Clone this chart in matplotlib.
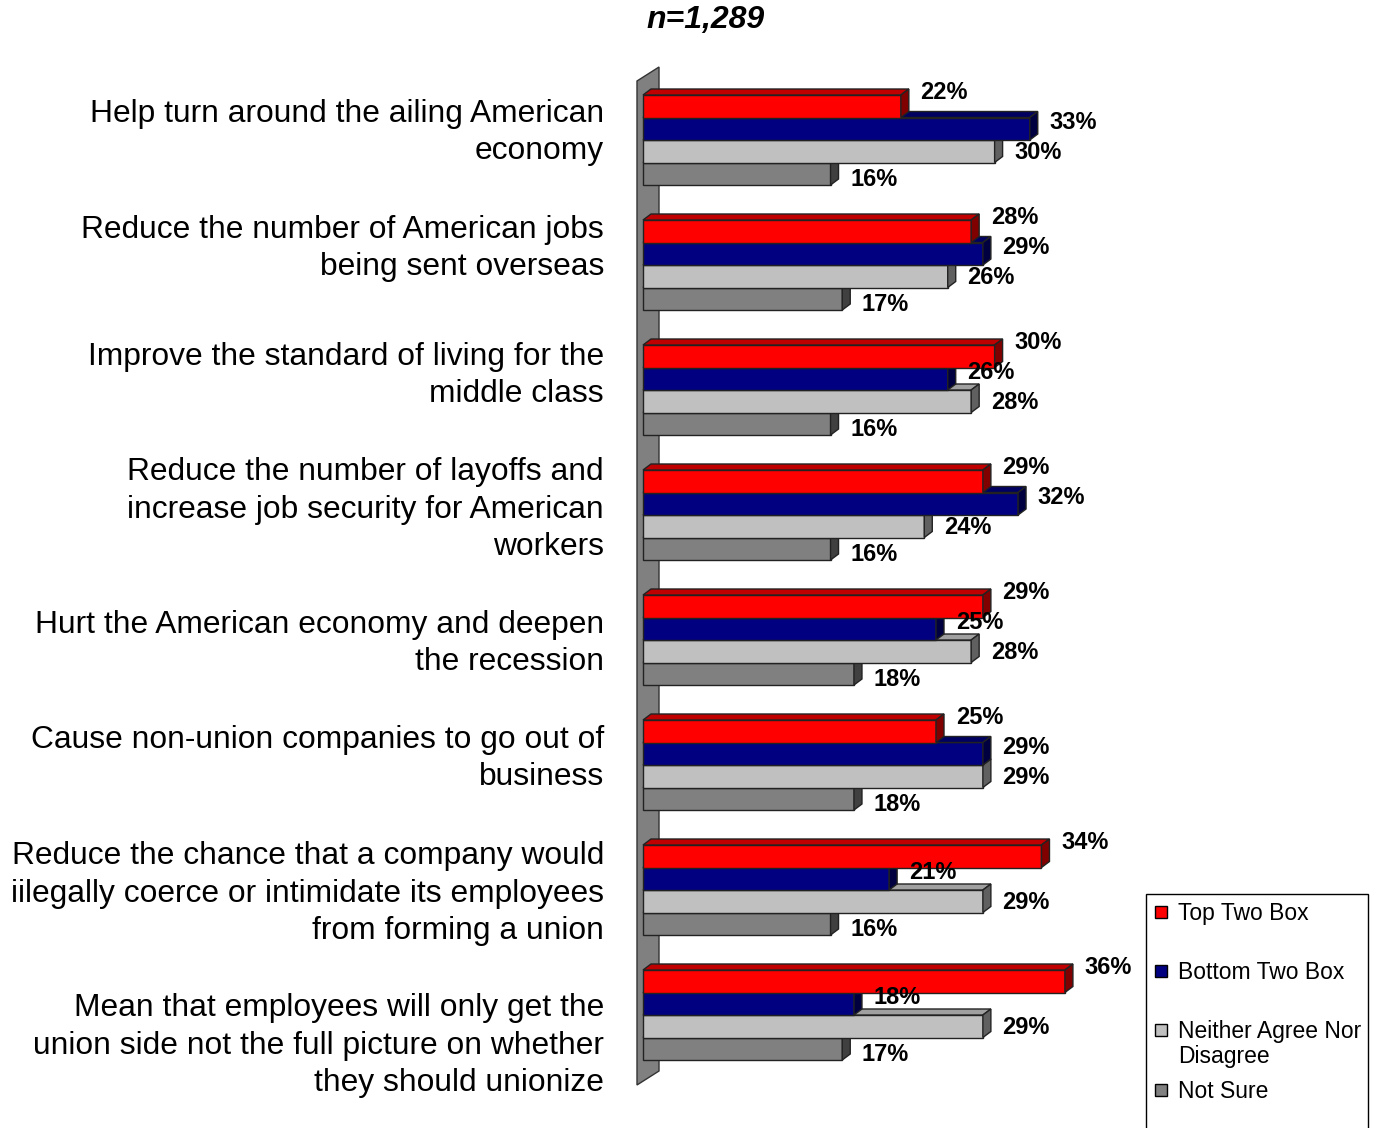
import matplotlib
matplotlib.use("Agg")
import matplotlib.pyplot as plt
from matplotlib.patches import Polygon, Rectangle

plt.rcParams['font.family'] = ['Liberation Sans', 'DejaVu Sans']

# Data
categories = [
    "Help turn around the ailing American\neconomy",
    "Reduce the number of American jobs\nbeing sent overseas",
    "Improve the standard of living for the\nmiddle class",
    "Reduce the number of layoffs and\nincrease job security for American\nworkers",
    "Hurt the American economy and deepen\nthe recession",
    "Cause non-union companies to go out of\nbusiness",
    "Reduce the chance that a company would\niilegally coerce or intimidate its employees\nfrom forming a union",
    "Mean that employees will only get the\nunion side not the full picture on whether\nthey should unionize",
]
series = ["Top Two Box", "Bottom Two Box", "Neither Agree Nor\nDisagree", "Not Sure"]
top_two = [22, 28, 30, 29, 29, 25, 34, 36]
bottom_two = [33, 29, 26, 32, 25, 29, 21, 18]
neither = [30, 26, 28, 24, 28, 29, 29, 29]
not_sure = [16, 17, 16, 16, 18, 18, 16, 17]
values = [top_two, bottom_two, neither, not_sure]

# front, top, side colours per series
front_cols = ["#FF0000", "#000080", "#C0C0C0", "#808080"]
top_cols = ["#C00000", "#000060", "#A0A0A0", "#606060"]
side_cols = ["#800000", "#000040", "#606060", "#404040"]

W, H = 1379, 1128
fig = plt.figure(figsize=(W / 100, H / 100), dpi=100)

# axes: x in percent (0 at px 643, 11.72 px per %), y in category units (125 px each)
x0_px, ppx = 643, 11.72
xmax = 40
ax = fig.add_axes([x0_px / W, 1 - 1077.5 / H, xmax * ppx / W, 1000 / H])
ax.set_xlim(0, xmax)
ax.set_ylim(7.5, -0.5)
ax.axis("off")

dx = 8 / ppx      # depth offset, percent units
dy = 6 / 125      # depth offset, category units
bh = 0.18         # bar height

# side wall
wx0, wx1 = -6 / ppx, 16 / ppx
wy_top, wy_bot = -0.472, 7.56
wdy = 14 / 125
ax.add_patch(Polygon([(wx0, wy_top), (wx1, wy_top - wdy), (wx1, wy_bot - wdy), (wx0, wy_bot)],
                     closed=True, facecolor="#808080", edgecolor="#333333", lw=1, clip_on=False, zorder=1))

label_dy = [-0.11, -0.05, 0.01, 0.045]
# small vertical nudges (px) of the category text, as laid out in the original
cat_nudge = [-1, -10, -8, 1, 10, 0, 10, 37]
for i in range(len(categories)):
    for j in reversed(range(len(values))):
        v = values[j][i]
        top = i - 2 * bh + j * bh
        ec = "#222222"
        ax.add_patch(Rectangle((0, top), v, bh, facecolor=front_cols[j], edgecolor=ec, lw=1,
                               clip_on=False, zorder=2))
        ax.add_patch(Polygon([(0, top), (v, top), (v + dx, top - dy), (dx, top - dy)], closed=True,
                             facecolor=top_cols[j], edgecolor=ec, lw=1, clip_on=False, zorder=2))
        ax.add_patch(Polygon([(v, top), (v + dx, top - dy), (v + dx, top + bh - dy), (v, top + bh)],
                             closed=True, facecolor=side_cols[j], edgecolor=ec, lw=1, clip_on=False, zorder=2))
    for j in range(len(values)):
        v = values[j][i]
        yc = i - 2 * bh + j * bh + bh / 2 + label_dy[j]
        ax.text(v + dx + 1.0, yc, f"{v}%", ha="left", va="center", fontsize=17,
                fontweight="bold", zorder=5)
    ax.text(-39 / ppx, i - 0.05 + cat_nudge[i] / 125, categories[i], ha="right", va="center",
            fontsize=22.9, linespacing=1.32, zorder=5)

fig.text(706 / W, 1 - 20 / H, "n=1,289", ha="center", va="center", fontsize=23,
         fontweight="bold", fontstyle="italic")

# legend
fig.patches.append(Rectangle((1146 / W, 1 - 1140 / H), 222 / W, 246 / H, transform=fig.transFigure,
                             facecolor="white", edgecolor="black", lw=1))
leg_y = [912, 971, 1030, 1090]
for j, name in enumerate(series):
    yy = 1 - leg_y[j] / H
    fig.patches.append(Rectangle((1155 / W, yy - 6 / H), 12 / W, 12 / H, transform=fig.transFigure,
                                 facecolor=front_cols[j], edgecolor="black", lw=1))
    fig.text(1178 / W, yy + 10 / H, name, ha="left", va="top", fontsize=16.5, linespacing=1.1)

fig.savefig("out.png", dpi=100)
